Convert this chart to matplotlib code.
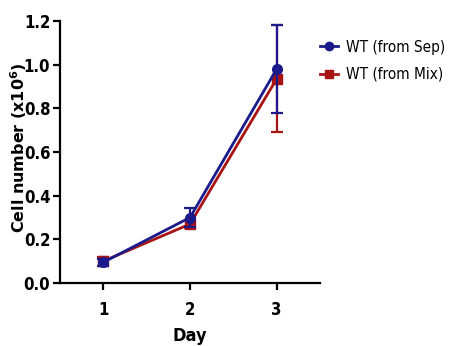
import matplotlib
matplotlib.use("Agg")
import matplotlib.pyplot as plt
from matplotlib.lines import Line2D

days = [1, 2, 3]
sep_mean = [0.095, 0.30, 0.98]
sep_err = [0.015, 0.045, 0.20]
mix_mean = [0.10, 0.27, 0.935]
mix_err = [0.02, 0.02, 0.245]
labels = ["WT (from Sep)", "WT (from Mix)"]

BLUE = "#1a1a8a"
RED = "#a81414"
NARROW = dict(family="DejaVu Sans", stretch="condensed", weight="bold")

fig = plt.figure(figsize=(4.5, 3.46), dpi=100)
ax = fig.add_axes([60 / 450, 1 - 283 / 346, 260 / 450, 262 / 346])

ax.errorbar(days, mix_mean, yerr=mix_err, color=RED, marker="s", ms=7,
            lw=2, elinewidth=1.6, capsize=4, capthick=1.6, zorder=2)
ax.errorbar(days, sep_mean, yerr=sep_err, color=BLUE, marker="o", ms=7,
            lw=2, elinewidth=1.6, capsize=4, capthick=1.6, zorder=3)

ax.set_xlim(0.5, 3.5)
ax.set_ylim(0, 1.2)
ax.set_xticks(days)
ax.set_yticks([0, 0.2, 0.4, 0.6, 0.8, 1.0, 1.2])
ax.set_yticklabels([f"{v:.1f}" for v in ax.get_yticks()])
for s in ["top", "right"]:
    ax.spines[s].set_visible(False)
for s in ["left", "bottom"]:
    ax.spines[s].set_linewidth(1.6)
ax.tick_params(width=1.6, length=5, direction="out", labelsize=12, pad=2)
for lab in ax.get_xticklabels() + ax.get_yticklabels():
    lab.set_fontfamily("DejaVu Sans")
    lab.set_fontstretch("condensed")
    lab.set_fontweight("bold")
ax.tick_params(axis="x", pad=8)

ax.set_xlabel("Day", fontsize=13, labelpad=6, **NARROW)
ax.set_ylabel("Cell number (x10$^\\mathbf{6}$)", fontsize=11.5, fontweight="bold",
              family="DejaVu Sans")
ax.yaxis.set_label_coords(-0.16, 0.517)
ax.yaxis.label.set_va("center")

handles = [Line2D([], [], color=BLUE, marker="o", ms=6, lw=2),
           Line2D([], [], color=RED, marker="s", ms=6, lw=2)]
fig.legend(handles, labels, loc="upper left", bbox_to_anchor=(306 / 450, 1 - 26 / 346),
           frameon=False, handlelength=1.2, handletextpad=0.5,
           labelspacing=0.8,
           prop={"family": "DejaVu Sans", "stretch": "condensed", "size": 11})

fig.savefig("out.png", dpi=100)
